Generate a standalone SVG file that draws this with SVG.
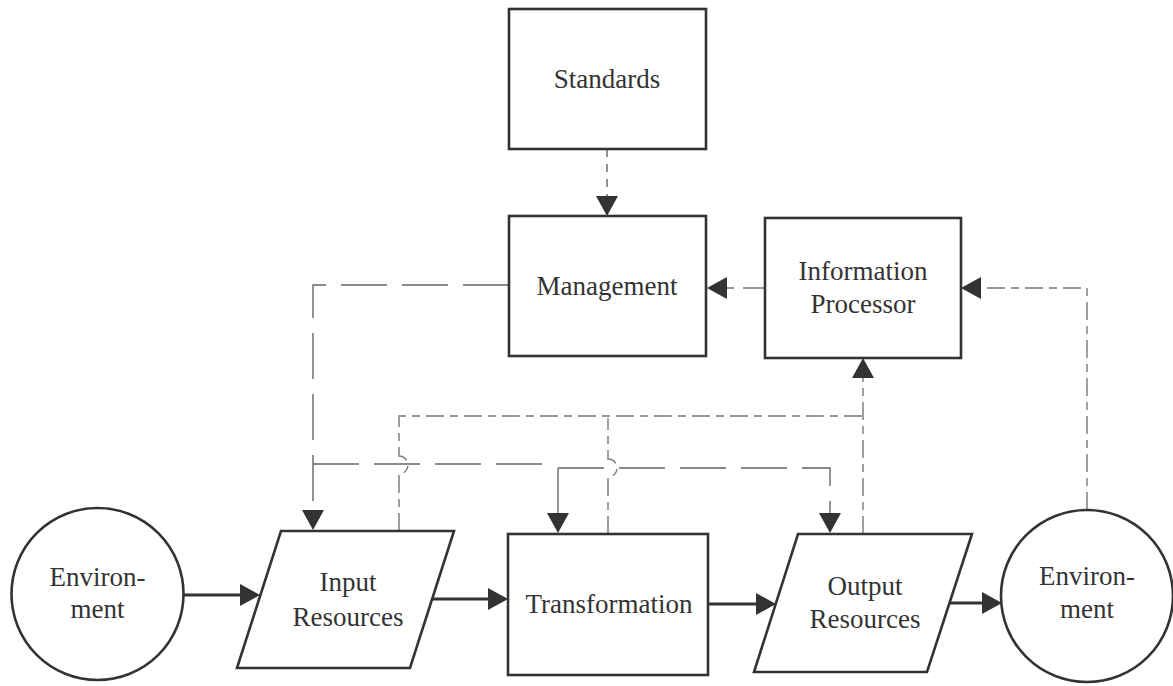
<svg xmlns="http://www.w3.org/2000/svg" width="1173" height="686" viewBox="0 0 1173 686">
  <defs>
    <marker id="arrow" viewBox="0 0 20 22" refX="17" refY="11" markerWidth="20" markerHeight="22" markerUnits="userSpaceOnUse" orient="auto">
      <path d="M0,0 L20,11 L0,22 z" fill="#333"/>
    </marker>
    <style>
      .shape { fill: #fff; stroke: #333; stroke-width: 2.6; }
      .label { font-family: "Liberation Serif", "Times New Roman", serif; font-size: 27px; fill: #333; text-anchor: middle; }
      .flow { fill: none; stroke: #333; stroke-width: 3; }
      .control { fill: none; stroke: #666; stroke-width: 1.4; stroke-dasharray: 46 15; }
      .info { fill: none; stroke: #777; stroke-width: 1.4; stroke-dasharray: 18 6 8 6; }
      .std { fill: none; stroke: #666; stroke-width: 1.4; stroke-dasharray: 8 7; }
    </style>
  </defs>

  <!-- connectors -->
  <g id="connectors">
    <!-- main material flow -->
    <path class="flow" d="M183,595 H257" marker-end="url(#arrow)"/>
    <path class="flow" d="M432,599 H505" marker-end="url(#arrow)"/>
    <path class="flow" d="M708,604 H773" marker-end="url(#arrow)"/>
    <path class="flow" d="M950,603 H999" marker-end="url(#arrow)"/>

    <!-- standards to management -->
    <path class="std" d="M607,149 V213" marker-end="url(#arrow)"/>

    <!-- management control to resources and transformation -->
    <path class="control" d="M509,285 H313 V527" marker-end="url(#arrow)"/>
    <path class="control" d="M313,464 H556"/>
    <path class="control" d="M558,468 V530" marker-end="url(#arrow)"/>
    <path class="control" d="M558,468 H830 V530" marker-end="url(#arrow)"/>

    <!-- information feedback -->
    <path class="info" d="M399,531 V474 A9,9 0 0 0 399,456 V416 H863"/>
    <path class="info" d="M608,534 V477 A9,9 0 0 0 608,459 V418"/>
    <path class="info" d="M863,534 V361" marker-end="url(#arrow)"/>
    <path class="info" d="M1087,510 V288 H964" marker-end="url(#arrow)"/>
    <path class="info" d="M765,288 H710" marker-end="url(#arrow)" style="stroke-dasharray:22 9 7 9"/>
  </g>

  <g id="standards">
    <rect class="shape" x="509" y="9" width="197" height="140"/>
    <text class="label" x="607" y="88">Standards</text>
  </g>

  <g id="management">
    <rect class="shape" x="509" y="216" width="197" height="140"/>
    <text class="label" x="607" y="295">Management</text>
  </g>

  <g id="information-processor">
    <rect class="shape" x="765" y="218" width="196" height="140"/>
    <text class="label" x="863" y="280">Information</text>
    <text class="label" x="863" y="313">Processor</text>
  </g>

  <g id="environment-in">
    <circle class="shape" cx="97.5" cy="594" r="86"/>
    <text class="label" x="97.5" y="586">Environ-</text>
    <text class="label" x="97.5" y="618">ment</text>
  </g>

  <g id="input-resources">
    <polygon class="shape" points="281,531 454,531 410,668 237,668"/>
    <text class="label" x="348" y="591">Input</text>
    <text class="label" x="348" y="626">Resources</text>
  </g>

  <g id="transformation">
    <rect class="shape" x="508" y="534" width="200" height="141"/>
    <text class="label" x="609" y="613">Transformation</text>
  </g>

  <g id="output-resources">
    <polygon class="shape" points="798,534 972,534 927,672 754,672"/>
    <text class="label" x="865" y="595">Output</text>
    <text class="label" x="865" y="628">Resources</text>
  </g>

  <g id="environment-out">
    <circle class="shape" cx="1087" cy="596" r="86"/>
    <text class="label" x="1087" y="585">Environ-</text>
    <text class="label" x="1087" y="618">ment</text>
  </g>
</svg>
